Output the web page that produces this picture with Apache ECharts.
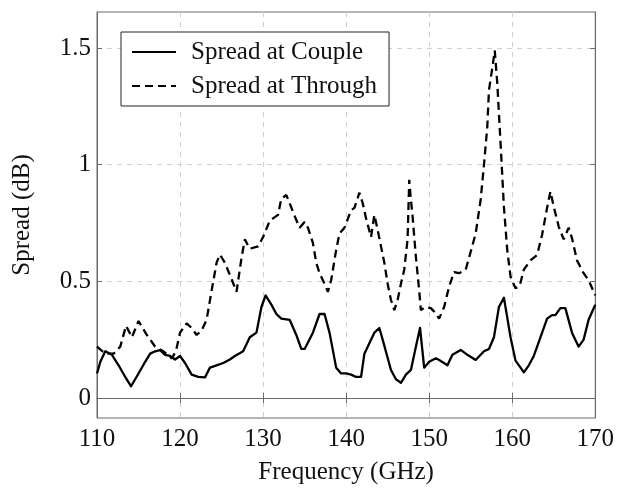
<!DOCTYPE html>
<html>
<head>
<meta charset="utf-8">
<script src="https://cdn.jsdelivr.net/npm/echarts@6/dist/echarts.min.js"></script>
<style>html,body{margin:0;padding:0;background:#fff}#c{width:617px;height:491px}</style>
</head>
<body>
<div id="c"></div>
<script>
var coupleFreq = [110,110.4,111,111.8,112.6,113.4,114.1,115,115.8,116.4,117,117.6,118.2,118.8,119.4,120,120.6,121.4,122.2,123,123.6,124.4,125.2,126,126.6,127.6,128.4,129.2,129.8,130.3,131,131.6,132.2,133.2,134,134.6,135,136,136.8,137.4,138,138.8,139.4,140,140.6,141.2,141.8,142.2,142.6,143.4,144,144.4,145.4,146,146.6,147.2,147.8,148.4,148.9,149.4,150,150.8,151.2,152.2,152.8,153.8,154.6,155.6,156.6,157.2,157.8,158.4,159,159.8,160.4,161,161.4,162,162.6,163.4,164.2,164.8,165.2,165.8,166.4,167.2,168,168.6,169.2,170];
var coupleSpread = [0.105,0.155,0.2,0.185,0.14,0.09,0.05,0.105,0.155,0.19,0.2,0.205,0.185,0.18,0.165,0.18,0.15,0.1,0.09,0.088,0.13,0.14,0.15,0.165,0.18,0.2,0.26,0.28,0.39,0.44,0.4,0.36,0.34,0.335,0.27,0.21,0.21,0.28,0.36,0.36,0.28,0.13,0.105,0.105,0.1,0.09,0.09,0.19,0.22,0.28,0.3,0.25,0.12,0.08,0.065,0.1,0.12,0.22,0.3,0.13,0.155,0.17,0.163,0.14,0.185,0.206,0.185,0.163,0.2,0.21,0.26,0.39,0.43,0.26,0.16,0.13,0.11,0.14,0.18,0.26,0.34,0.355,0.355,0.385,0.385,0.28,0.22,0.25,0.335,0.4];
var throughFreq = [110,111,112,112.8,113.5,114.2,115,116,117,118,119,119.5,120,120.8,121.4,122,122.6,123.2,123.8,124.4,124.8,125.4,126.2,126.8,127.4,127.8,128.4,129.4,130,130.8,131.2,131.8,132.2,132.8,133.2,133.8,134.4,135,135.4,136,136.4,136.8,137.4,137.8,138.2,138.8,139.2,139.8,140.6,141,141.6,142,142.4,143,143.4,143.8,144.2,144.6,145,145.4,145.8,146.2,146.6,147,147.4,147.6,147.8,148,148.4,148.8,149,149.6,150.2,150.6,151.2,151.8,152.4,153,153.6,154.4,155,155.6,156.2,156.6,157,157.2,157.6,157.9,158.2,158.6,159,159.4,159.8,160.4,160.9,161.4,162.2,163,163.6,164.2,164.6,165,165.6,166.2,166.8,167.2,167.8,168.6,169.2,170];
var throughSpread = [0.22,0.19,0.19,0.22,0.31,0.26,0.33,0.27,0.22,0.2,0.17,0.2,0.28,0.32,0.3,0.27,0.29,0.335,0.46,0.58,0.615,0.58,0.51,0.455,0.6,0.68,0.64,0.65,0.69,0.76,0.77,0.785,0.855,0.87,0.835,0.78,0.73,0.755,0.73,0.665,0.58,0.535,0.49,0.455,0.505,0.635,0.705,0.73,0.805,0.815,0.88,0.835,0.77,0.69,0.785,0.72,0.65,0.58,0.49,0.42,0.377,0.42,0.49,0.55,0.68,0.935,0.85,0.78,0.605,0.46,0.377,0.39,0.385,0.37,0.34,0.39,0.477,0.54,0.535,0.55,0.627,0.705,0.85,1.0,1.163,1.32,1.414,1.49,1.35,1.09,0.82,0.635,0.52,0.47,0.48,0.55,0.59,0.613,0.7,0.815,0.885,0.82,0.735,0.68,0.73,0.685,0.59,0.535,0.505,0.44];
var yTicks = [0, 0.5, 1, 1.5];
var seriesNames = ['Spread at Couple', 'Spread at Through'];

function zip(a, b) { return a.map(function (x, i) { return [x, b[i]]; }); }

var FONT = 'Liberation Serif';
var FS = 25;
var AX = '#6a6a6a';
var gridLine = { show: true, lineStyle: { color: '#d0d0d0', type: [5, 5], width: 1 } };

var chart = echarts.init(document.getElementById('c'), null, { renderer: 'canvas' });
chart.setOption({
  animation: false,
  backgroundColor: '#fff',
  grid: { left: 97, right: 20, top: 12, bottom: 73, show: true, borderColor: AX, borderWidth: 1 },
  legend: {
    orient: 'vertical', left: 121, top: 32,
    backgroundColor: '#fff', borderColor: '#222', borderWidth: 1,
    padding: [7, 12, 7, 10],
    itemWidth: 44, itemHeight: 20, itemGap: 8,
    itemStyle: { color: 'rgba(0,0,0,0)', borderColor: 'rgba(0,0,0,0)', borderWidth: 0, opacity: 0 },
    textStyle: { fontFamily: FONT, fontSize: FS, color: '#111', lineHeight: 26, padding: [0, 0, 0, 10] },
    data: seriesNames
  },
  xAxis: [{
    type: 'value', min: 110, max: 170, interval: 10, position: 'bottom',
    name: 'Frequency (GHz)', nameLocation: 'middle', nameGap: 42,
    nameTextStyle: { fontFamily: FONT, fontSize: FS, color: '#111' },
    axisLine: { show: true, lineStyle: { color: AX, width: 1 } },
    axisTick: { show: true, inside: true, length: 5, lineStyle: { color: AX } },
    axisLabel: { fontFamily: FONT, fontSize: FS, color: '#111', margin: 9 },
    splitLine: gridLine
  }, {
    type: 'value', min: 110, max: 170, interval: 10, position: 'top',
    axisLine: { show: true, lineStyle: { color: AX, width: 1 } },
    axisTick: { show: true, inside: true, length: 5, lineStyle: { color: AX } },
    axisLabel: { show: false }, splitLine: { show: false }
  }],
  yAxis: [{
    type: 'value', min: -0.086, max: 1.655, position: 'left',
    name: 'Spread (dB)', nameLocation: 'middle', nameGap: 62,
    nameTextStyle: { fontFamily: FONT, fontSize: FS, color: '#111' },
    axisLine: { show: true, lineStyle: { color: AX, width: 1 } },
    axisTick: { show: true, inside: true, length: 5, lineStyle: { color: AX }, customValues: yTicks },
    axisLabel: { fontFamily: FONT, fontSize: FS, color: '#111', margin: 6, customValues: yTicks },
    splitLine: gridLine
  }, {
    type: 'value', min: -0.086, max: 1.655, position: 'right',
    axisLine: { show: true, lineStyle: { color: AX, width: 1 } },
    axisTick: { show: true, inside: true, length: 5, lineStyle: { color: AX }, customValues: yTicks },
    axisLabel: { show: false, customValues: yTicks }, splitLine: { show: false }
  }],
  series: [{
    name: seriesNames[0], type: 'line', symbol: 'none', xAxisIndex: 0, yAxisIndex: 0,
    data: zip(coupleFreq, coupleSpread),
    lineStyle: { color: '#000', width: 2.3, type: 'solid', join: 'round' },
    itemStyle: { color: '#000' }
  }, {
    name: seriesNames[1], type: 'line', symbol: 'none', xAxisIndex: 0, yAxisIndex: 0,
    data: zip(throughFreq, throughSpread),
    lineStyle: { color: '#000', width: 2.3, type: [8, 5] },
    itemStyle: { color: '#000' }
  }]
});
</script>
</body>
</html>
